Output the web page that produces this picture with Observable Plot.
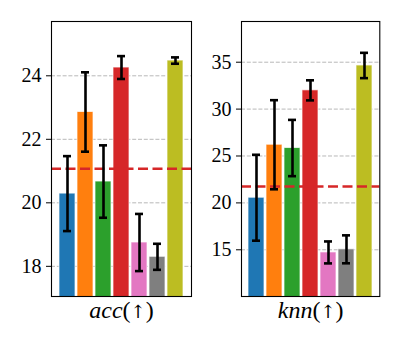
<!DOCTYPE html>
<html>
<head>
<meta charset="utf-8">
<script src="https://cdn.jsdelivr.net/npm/d3@7"></script>
<script src="https://cdn.jsdelivr.net/npm/@observablehq/plot@0.6"></script>
<style>
  html, body { margin: 0; padding: 0; background: white; }
  #left { position: absolute; left: 0; top: 0; width: 200px; height: 350px; }
  #right { position: absolute; left: 200px; top: 0; width: 200px; height: 350px; }
</style>
</head>
<body>
<div id="left"></div>
<div id="right"></div>
<script>
// ---- data ----
const methods = ["M1", "M2", "M3", "M4", "M5", "M6", "M7"];
const colors = ["#1f77b4", "#ff7f0e", "#2ca02c", "#d62728", "#e377c2", "#7f7f7f", "#bcbd22"];

const accMean = [20.29, 22.86, 20.67, 24.26, 18.75, 18.30, 24.48];
const accErr  = [1.18, 1.25, 1.14, 0.36, 0.90, 0.41, 0.10];
const accBaseline = 21.07;
const accTicks = [18, 20, 22, 24];
const accDomain = [17.05, 25.71];

const knnMean = [20.55, 26.20, 25.85, 32.00, 14.72, 15.05, 34.65];
const knnErr  = [4.58, 4.75, 3.00, 1.07, 1.17, 1.49, 1.35];
const knnBaseline = 21.74;
const knnTicks = [15, 20, 25, 30, 35];
const knnDomain = [10.02, 39.34];

const panels = [
  {el: "left", italic: "acc", mean: accMean, err: accErr, baseline: accBaseline,
   ticks: accTicks, domain: accDomain, marginLeft: 51, marginRight: 9},
  {el: "right", italic: "knn", mean: knnMean, err: knnErr, baseline: knnBaseline,
   ticks: knnTicks, domain: knnDomain, marginLeft: 41, marginRight: 20.7}
];

function makePanel(p) {
  const data = methods.map((m, i) => ({method: m, mean: p.mean[i], lo: p.mean[i] - p.err[i], hi: p.mean[i] + p.err[i]}));
  const label = p.italic + "(\u2191)";
  const svg = Plot.plot({
    width: 200,
    height: 350,
    marginTop: 21,
    marginBottom: 54,
    marginLeft: p.marginLeft,
    marginRight: p.marginRight,
    style: {fontFamily: "Liberation Serif"},
    x: {domain: methods, paddingInner: 0.11, paddingOuter: 0.31, axis: null},
    y: {domain: p.domain, axis: null},
    color: {domain: methods, range: colors},
    marks: [
      Plot.gridY(p.ticks, {stroke: "#b0b0b0", strokeOpacity: 1, strokeWidth: 0.9, strokeDasharray: "4,1.8"}),
      Plot.barY(data, {x: "method", y1: p.domain[0] - 5, y2: "mean", fill: "method", stroke: "white", strokeWidth: 1, strokeOpacity: 0.7, clip: true}),
      Plot.ruleY([p.baseline], {stroke: "#d62728", strokeWidth: 2.5, strokeDasharray: "10,4.5"}),
      Plot.ruleX(data, {x: "method", y1: "lo", y2: "hi", stroke: "black", strokeWidth: 2.6}),
      Plot.tickY(data, {x: "method", y: "lo", stroke: "black", strokeWidth: 2.6, inset: 4}),
      Plot.tickY(data, {x: "method", y: "hi", stroke: "black", strokeWidth: 2.6, inset: 4}),
      Plot.axisY(p.ticks, {tickSize: 5, tickPadding: 5, fontSize: 20, fontFamily: "Liberation Serif"}),
      Plot.frame({stroke: "black", strokeWidth: 1.1}),
      Plot.text([label], {frameAnchor: "bottom", dy: 21, fontSize: 24, fontFamily: "Liberation Serif", fill: "black"})
    ]
  });
  // make the variable name italic, the rest upright
  d3.select(svg).selectAll("text").each(function() {
    if (this.textContent === label) {
      const t = d3.select(this);
      t.text(null);
      t.append("tspan").attr("font-style", "italic").text(p.italic);
      t.append("tspan").text("(");
      t.append("tspan").attr("font-family", "DejaVu Serif").attr("font-size", 18).text("\u2191");
      t.append("tspan").text(")");
    }
  });
  document.getElementById(p.el).appendChild(svg);
}

for (const p of panels) makePanel(p);
</script>
</body>
</html>
